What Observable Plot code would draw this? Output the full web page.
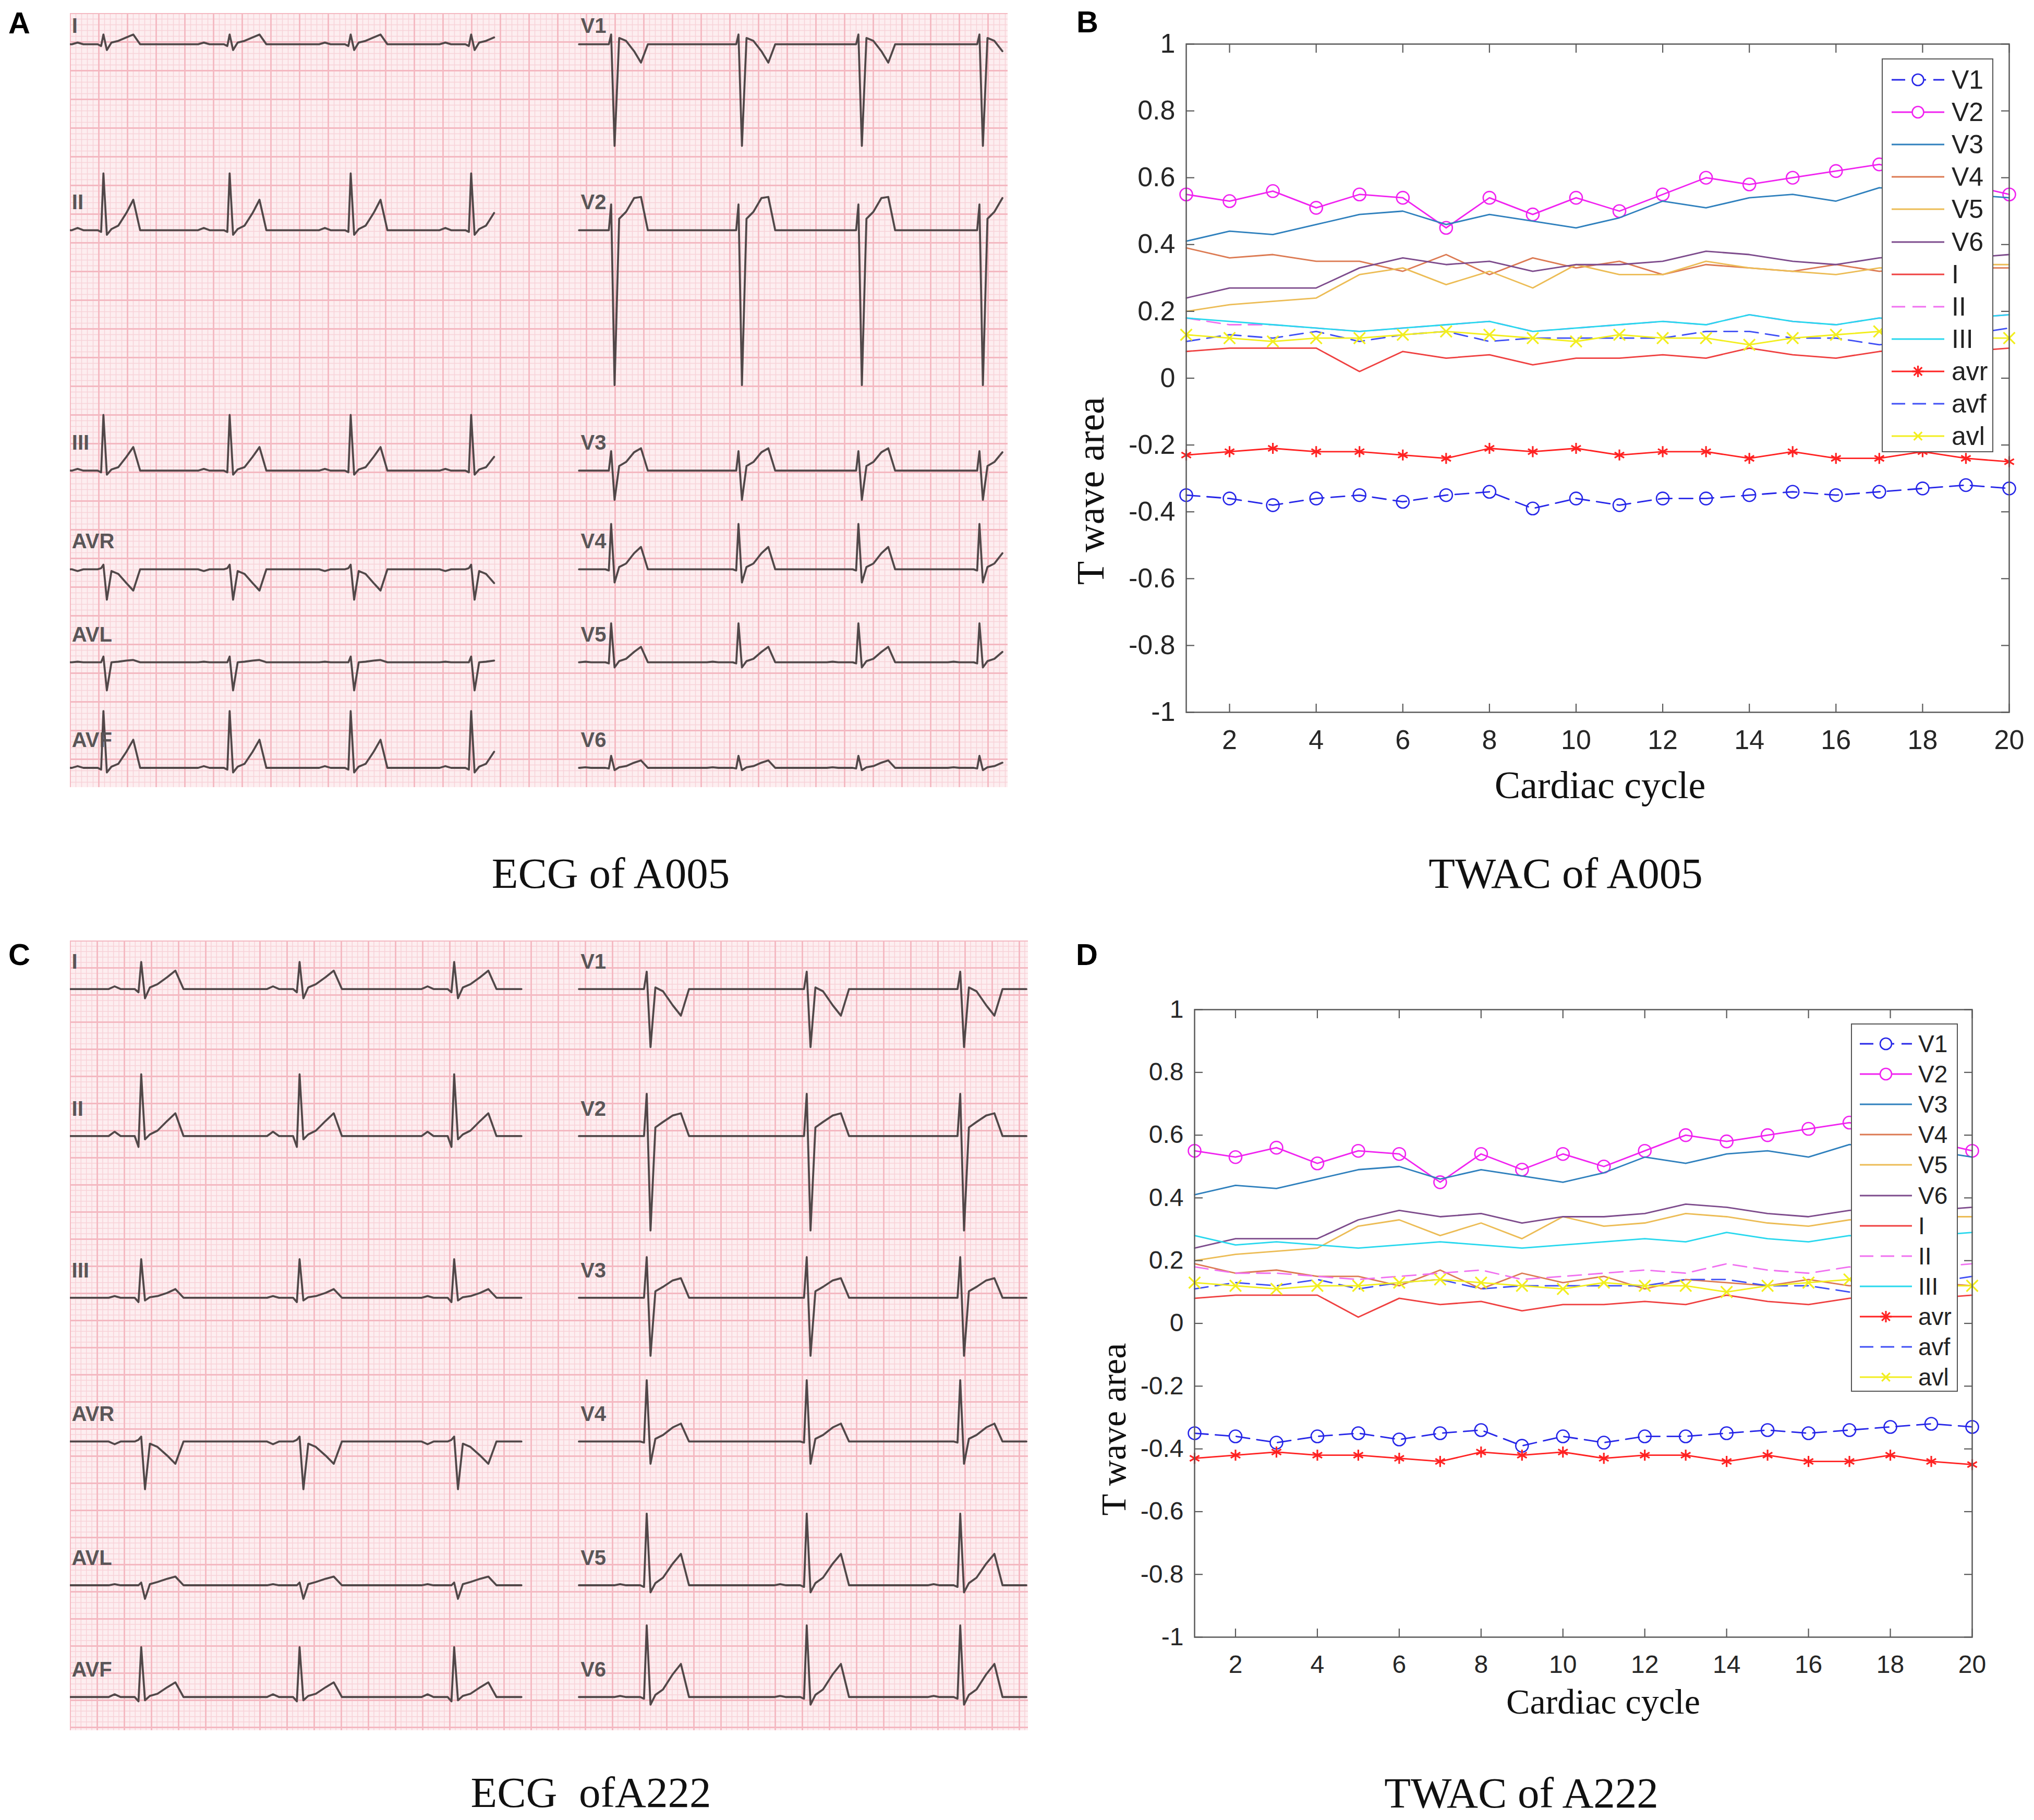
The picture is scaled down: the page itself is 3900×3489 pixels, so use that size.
<!DOCTYPE html>
<html><head><meta charset="utf-8">
<script src="https://cdn.jsdelivr.net/npm/d3@7"></script>
<script src="https://cdn.jsdelivr.net/npm/@observablehq/plot@0.6"></script>
<style>
html,body{margin:0;padding:0;background:#fff;}
#page{position:relative;width:3900px;height:3489px;overflow:hidden;background:#fff;}
.t{position:absolute;white-space:pre;line-height:1;transform:translate(-50%,-50%);}
.serif{font-family:"Liberation Serif","Times New Roman",serif;color:#111;}
.letter{font-family:"Liberation Sans",Arial,sans-serif;font-weight:bold;font-size:58px;color:#000;}
.leg{position:absolute;background:#fff;border:2.5px solid #555;box-sizing:border-box;}
</style></head>
<body><div id="page"></div>
<script>
// ---------------- TWAC data ----------------
const cycles = [1,2,3,4,5,6,7,8,9,10,11,12,13,14,15,16,17,18,19,20];
const xTicks = [2,4,6,8,10,12,14,16,18,20];
const yTicks = [-1,-0.8,-0.6,-0.4,-0.2,0,0.2,0.4,0.6,0.8,1];
const leadOrder = ["V1","V2","V3","V4","V5","V6","I","II","III","avr","avf","avl"];

// Panel B (A005)
const V1_B  = [-0.35,-0.36,-0.38,-0.36,-0.35,-0.37,-0.35,-0.34,-0.39,-0.36,-0.38,-0.36,-0.36,-0.35,-0.34,-0.35,-0.34,-0.33,-0.32,-0.33];
const V2_B  = [0.55,0.53,0.56,0.51,0.55,0.54,0.45,0.54,0.49,0.54,0.50,0.55,0.60,0.58,0.60,0.62,0.64,0.61,0.58,0.55];
const V3_B  = [0.41,0.44,0.43,0.46,0.49,0.50,0.46,0.49,0.47,0.45,0.48,0.53,0.51,0.54,0.55,0.53,0.57,0.56,0.55,0.54];
const V4_B  = [0.39,0.36,0.37,0.35,0.35,0.32,0.37,0.31,0.36,0.33,0.35,0.31,0.34,0.33,0.32,0.34,0.32,0.33,0.33,0.33];
const V5_B  = [0.20,0.22,0.23,0.24,0.31,0.33,0.28,0.32,0.27,0.34,0.31,0.31,0.35,0.33,0.32,0.31,0.33,0.33,0.34,0.34];
const V6_B  = [0.24,0.27,0.27,0.27,0.33,0.36,0.34,0.35,0.32,0.34,0.34,0.35,0.38,0.37,0.35,0.34,0.36,0.37,0.36,0.37];
const I_B   = [0.08,0.09,0.09,0.09,0.02,0.08,0.06,0.07,0.04,0.06,0.06,0.07,0.06,0.09,0.07,0.06,0.08,0.09,0.08,0.09];
const II_B  = [0.18,0.16,0.16,0.15,0.14,0.15,0.16,0.17,0.14,0.15,0.16,0.17,0.16,0.19,0.17,0.16,0.18,0.17,0.18,0.19];
const III_B = [0.18,0.17,0.16,0.15,0.14,0.15,0.16,0.17,0.14,0.15,0.16,0.17,0.16,0.19,0.17,0.16,0.18,0.17,0.18,0.19];
const avr_B = [-0.23,-0.22,-0.21,-0.22,-0.22,-0.23,-0.24,-0.21,-0.22,-0.21,-0.23,-0.22,-0.22,-0.24,-0.22,-0.24,-0.24,-0.22,-0.24,-0.25];
const avf_B = [0.11,0.13,0.12,0.14,0.11,0.13,0.14,0.11,0.12,0.12,0.12,0.12,0.14,0.14,0.12,0.12,0.10,0.11,0.13,0.15];
const avl_B = [0.13,0.12,0.11,0.12,0.12,0.13,0.14,0.13,0.12,0.11,0.13,0.12,0.12,0.10,0.12,0.13,0.14,0.13,0.12,0.12];

// Panel D (A222)
const V1_D  = [-0.35,-0.36,-0.38,-0.36,-0.35,-0.37,-0.35,-0.34,-0.39,-0.36,-0.38,-0.36,-0.36,-0.35,-0.34,-0.35,-0.34,-0.33,-0.32,-0.33];
const V2_D  = [0.55,0.53,0.56,0.51,0.55,0.54,0.45,0.54,0.49,0.54,0.50,0.55,0.60,0.58,0.60,0.62,0.64,0.61,0.58,0.55];
const V3_D  = [0.41,0.44,0.43,0.46,0.49,0.50,0.46,0.49,0.47,0.45,0.48,0.53,0.51,0.54,0.55,0.53,0.57,0.56,0.55,0.53];
const V4_D  = [0.19,0.16,0.17,0.15,0.15,0.12,0.17,0.11,0.16,0.13,0.15,0.11,0.14,0.13,0.12,0.14,0.12,0.13,0.13,0.12];
const V5_D  = [0.20,0.22,0.23,0.24,0.31,0.33,0.28,0.32,0.27,0.34,0.31,0.32,0.35,0.34,0.32,0.31,0.33,0.33,0.34,0.34];
const V6_D  = [0.24,0.27,0.27,0.27,0.33,0.36,0.34,0.35,0.32,0.34,0.34,0.35,0.38,0.37,0.35,0.34,0.36,0.37,0.36,0.37];
const I_D   = [0.08,0.09,0.09,0.09,0.02,0.08,0.06,0.07,0.04,0.06,0.06,0.07,0.06,0.09,0.07,0.06,0.08,0.09,0.08,0.09];
const II_D  = [0.18,0.16,0.16,0.15,0.14,0.15,0.16,0.17,0.14,0.15,0.16,0.17,0.16,0.19,0.17,0.16,0.18,0.17,0.18,0.19];
const III_D = [0.28,0.25,0.26,0.25,0.24,0.25,0.26,0.25,0.24,0.25,0.26,0.27,0.26,0.29,0.27,0.26,0.28,0.27,0.28,0.29];
const avr_D = [-0.43,-0.42,-0.41,-0.42,-0.42,-0.43,-0.44,-0.41,-0.42,-0.41,-0.43,-0.42,-0.42,-0.44,-0.42,-0.44,-0.44,-0.42,-0.44,-0.45];
const avf_D = [0.11,0.13,0.12,0.14,0.11,0.13,0.14,0.11,0.12,0.12,0.12,0.12,0.14,0.14,0.12,0.12,0.10,0.11,0.13,0.15];
const avl_D = [0.13,0.12,0.11,0.12,0.12,0.13,0.14,0.13,0.12,0.11,0.13,0.12,0.12,0.10,0.12,0.13,0.14,0.13,0.12,0.12];

// ---------------- ECG data (amplitudes in mm of paper) ----------------
const ecgLeads = ["I","II","III","AVR","AVL","AVF","V1","V2","V3","V4","V5","V6"];
// beat template time offsets from R peak (mm), values: 0,P,0,0,Q,R,S,J,ST,Tmid,T,0
const ecgTimeA = [-5.5,-4.5,-3.5,-1.0,-0.4,0,0.6,1.4,2.6,4.0,5.2,6.4];
const ecgTimeC = [-6.0,-4.9,-3.8,-1.2,-0.5,0,0.7,1.6,3.0,4.8,6.3,7.8];
// per lead: [P, Q, R, S, J, ST, Tmid, T]
const ampA = [
  [0.3,-0.3,1.7,-1.0,0.3,0.6,1.2,1.7],
  [0.4,-0.3,9.9,-0.8,0.2,0.8,3.0,5.3],
  [0.3,-0.3,9.7,-0.7,0.2,0.6,2.4,4.1],
  [-0.3,0.2,0.8,-5.3,-0.3,-0.8,-2.4,-3.7],
  [0.1,0.0,1.0,-4.9,0.0,0.1,0.3,0.4],
  [0.3,-0.3,9.9,-0.8,0.2,0.7,2.8,4.9],
  [0.0,0.0,1.7,-17.7,1.1,0.6,-1.2,-3.2],
  [0.0,0.0,4.5,-27.0,2.0,3.2,5.6,5.8],
  [0.0,0.0,3.4,-5.1,0.8,1.5,3.2,3.9],
  [0.0,-0.2,7.9,-2.3,0.4,1.0,2.8,3.9],
  [0.1,-0.2,6.8,-0.9,0.2,0.6,1.8,2.7],
  [0.1,-0.1,2.1,-0.4,0.1,0.3,0.9,1.3]
];
const ampC = [
  [0.5,-0.6,5.0,-1.7,0.3,0.9,2.2,3.4],
  [0.8,-2.0,11.4,-0.6,0.3,1.0,2.8,4.2],
  [0.3,-0.8,7.1,-0.5,0.1,0.3,0.9,1.6],
  [-0.5,0.3,0.9,-8.8,-0.4,-1.0,-2.6,-4.1],
  [0.2,0.0,0.5,-2.5,0.2,0.6,1.2,1.6],
  [0.5,-0.8,9.2,-0.6,0.2,0.6,1.8,2.7],
  [0.0,0.0,3.2,-10.7,0.3,-0.4,-3.0,-4.9],
  [0.0,0.0,7.8,-17.4,1.6,2.6,3.8,4.2],
  [0.0,0.0,7.5,-10.7,1.2,2.0,3.2,3.6],
  [0.0,-0.2,11.3,-4.1,0.5,1.2,2.6,3.3],
  [0.2,-0.3,13.2,-1.3,0.4,1.4,4.0,5.8],
  [0.2,-0.3,13.2,-1.4,0.4,1.4,4.2,6.1]
];
// R-peak times (mm from panel left)
const beatsA_left  = [5.8,27.8,48.9,69.9];
const beatsA_right = [94.3,116.5,137.4,158.5];
const beatsC_left  = [13.1,42.3,70.8];
const beatsC_right = [106.3,135.8,164.1];

// ---------------- layout ----------------
const rowsA = [5.4,37.8,79.7,96.9,113.1,131.5];
const rowsC = [8.9,36.0,65.8,92.3,118.8,139.4];

const STYLE = {
  V1: {stroke:"#2626e8", dash:"26,14", marker:"circle"},
  V2: {stroke:"#f022f0", marker:"circle"},
  V3: {stroke:"#2f80bd"},
  V4: {stroke:"#dc7a52"},
  V5: {stroke:"#ecbc55"},
  V6: {stroke:"#7d4b8c"},
  I:  {stroke:"#ef4040"},
  II: {stroke:"#f070f0", dash:"26,14"},
  III:{stroke:"#28d8ee"},
  avr:{stroke:"#ff2222", marker:"asterisk"},
  avf:{stroke:"#3f4ff5", dash:"26,14"},
  avl:{stroke:"#f2ee1e", marker:"times"}
};

const page = document.getElementById("page");
function place(node, left, top) {
  const d = document.createElement("div");
  d.style.cssText = `position:absolute;left:${left}px;top:${top}px;`;
  d.appendChild(node); page.appendChild(d); return d;
}
function label(str, cx, cy, cls, css) {
  const d = document.createElement("div");
  d.className = "t " + cls; d.textContent = str;
  d.style.left = cx + "px"; d.style.top = cy + "px";
  if (css) d.style.cssText += css;
  page.appendChild(d); return d;
}

// ---------------- ECG panels ----------------
function ecgPanel({w, h, mm, amps, times, beatsL, beatsR, rows, spanL, spanR, labelDy}) {
  const W = w / mm, H = h / mm;
  const trace = [], labs = [];
  ecgLeads.forEach((name, k) => {
    const col = k < 6 ? 0 : 1;
    const base = rows[k % 6];
    const beats = col ? beatsR : beatsL;
    const [x0, x1] = col ? spanR : spanL;
    const a = amps[k];
    const vals = [0, a[0], 0, 0, a[1], a[2], a[3], a[4], a[5], a[6], a[7], 0];
    trace.push({key: name, t: x0, v: base});
    let complete = true;
    for (const R of beats) times.forEach((dt, i) => {
      const t = R + dt;
      if (t > x0 && t < x1) trace.push({key: name, t, v: base - vals[i]});
      else if (t >= x1) complete = false;
    });
    if (complete) trace.push({key: name, t: x1, v: base});
    labs.push({name, t: x0 + 0.3, v: Math.max(base - labelDy, 2.2)});
  });
  const minorX = d3.range(0, W, 1), minorY = d3.range(0, H, 1);
  const majorX = d3.range(0, W, 5), majorY = d3.range(0, H, 5);
  return Plot.plot({
    width: w, height: h, margin: 0,
    x: {domain: [0, W], axis: null},
    y: {domain: [0, H], reverse: true, axis: null},
    style: {background: "#fdeef0", fontFamily: "Liberation Sans, Arial, sans-serif", overflow: "hidden"},
    marks: [
      Plot.ruleX(minorX, {stroke: "#f8d2d8", strokeWidth: 1.5}),
      Plot.ruleY(minorY, {stroke: "#f8d2d8", strokeWidth: 1.5}),
      Plot.ruleX(majorX, {stroke: "#f4b8c1", strokeWidth: 2.8}),
      Plot.ruleY(majorY, {stroke: "#f4b8c1", strokeWidth: 2.8}),
      Plot.line(trace, {x: "t", y: "v", z: "key", stroke: "#514849", strokeWidth: 3.8, strokeLinejoin: "round"}),
      Plot.text(labs, {x: "t", y: "v", text: "name", textAnchor: "start", fontSize: 40, fontWeight: "bold", fill: "#5a5557"})
    ]
  });
}

place(ecgPanel({w: 1798, h: 1484, mm: 11, amps: ampA, times: ecgTimeA,
  beatsL: beatsA_left, beatsR: beatsA_right, rows: rowsA,
  spanL: [0, 74.5], spanR: [88.7, 163.2], labelDy: 4.8}), 134, 25);
place(ecgPanel({w: 1837, h: 1514, mm: 10.4, amps: ampC, times: ecgTimeC,
  beatsL: beatsC_left, beatsR: beatsC_right, rows: rowsC,
  spanL: [0, 83.2], spanR: [93.8, 176.3], labelDy: 5.0}), 134, 1803);

// ---------------- TWAC panels ----------------
const fmtY = d => String(+d.toFixed(1));
function twac(series, {w, h, mt, mr, mb, ml, fs}) {
  const rows = [];
  leadOrder.forEach(lead => series[lead].forEach((v, i) => rows.push({lead, cycle: cycles[i], value: v})));
  const marks = [];
  leadOrder.forEach(lead => {
    const s = STYLE[lead];
    const data = rows.filter(r => r.lead === lead);
    marks.push(Plot.line(data, {x: "cycle", y: "value", stroke: s.stroke, strokeWidth: 2.8,
      strokeDasharray: s.dash || null}));
    if (s.marker === "circle")
      marks.push(Plot.dot(data, {x: "cycle", y: "value", r: 12, stroke: s.stroke, fill: "none", strokeWidth: 2.6}));
    else if (s.marker)
      marks.push(Plot.dot(data, {x: "cycle", y: "value", r: 10, symbol: s.marker, stroke: s.stroke, strokeWidth: 3.2}));
  });
  const tk = 16, tc = "#5a5a5a";
  return Plot.plot({
    width: w, height: h, marginTop: mt, marginRight: mr, marginBottom: mb, marginLeft: ml,
    x: {domain: [1, 20]},
    y: {domain: [-1, 1]},
    style: {background: "white", fontFamily: "Liberation Sans, Arial, sans-serif", fontSize: fs + "px", color: "#262626", overflow: "visible"},
    marks: [
      ...marks,
      Plot.frame({stroke: tc, strokeWidth: 2.5}),
      Plot.axisX(xTicks, {anchor: "bottom", tickSize: 0, tickPadding: 34, tickFormat: d => String(d), label: null, fontSize: fs}),
      Plot.axisY(yTicks, {anchor: "left", tickSize: 0, tickPadding: 21, tickFormat: fmtY, label: null, fontSize: fs}),
      Plot.axisX(xTicks, {anchor: "bottom", tickSize: tk, dy: -tk, fill: "none", label: null, stroke: tc, strokeWidth: 2.2}),
      Plot.axisX(xTicks, {anchor: "top", tickSize: tk, dy: tk, fill: "none", label: null, stroke: tc, strokeWidth: 2.2}),
      Plot.axisY(yTicks, {anchor: "left", tickSize: tk, dx: tk, fill: "none", label: null, stroke: tc, strokeWidth: 2.2}),
      Plot.axisY(yTicks, {anchor: "right", tickSize: tk, dx: -tk, fill: "none", label: null, stroke: tc, strokeWidth: 2.2})
    ]
  });
}

function legendBox({left, top, w, h, y0, step, sx0, sx1, lx, fs}) {
  const box = document.createElement("div");
  box.className = "leg";
  box.style.cssText += `left:${left}px;top:${top}px;width:${w}px;height:${h}px;`;
  page.appendChild(box);
  const NS = "http://www.w3.org/2000/svg";
  leadOrder.forEach((lead, i) => {
    const s = STYLE[lead];
    const cy = y0 + step * i;
    const svg = document.createElementNS(NS, "svg");
    svg.setAttribute("width", sx1 - sx0 + 30); svg.setAttribute("height", 40);
    svg.style.cssText = `position:absolute;left:${sx0 - left - 15}px;top:${cy - top - 20}px;overflow:visible;`;
    const ln = document.createElementNS(NS, "line");
    ln.setAttribute("x1", 15); ln.setAttribute("x2", sx1 - sx0 + 15); ln.setAttribute("y1", 20); ln.setAttribute("y2", 20);
    ln.setAttribute("stroke", s.stroke); ln.setAttribute("stroke-width", 2.8);
    if (s.dash) ln.setAttribute("stroke-dasharray", s.dash);
    svg.appendChild(ln);
    const mx = 15 + (sx1 - sx0) / 2;
    if (s.marker === "circle") {
      const c = document.createElementNS(NS, "circle");
      c.setAttribute("cx", mx); c.setAttribute("cy", 20); c.setAttribute("r", 11);
      c.setAttribute("fill", "#fff"); c.setAttribute("stroke", s.stroke); c.setAttribute("stroke-width", 2.6);
      svg.appendChild(c);
    } else if (s.marker) {
      const angles = s.marker === "asterisk" ? [0, 45, 90, 135] : [45, 135];
      angles.forEach(a => {
        const r = 11, rad = a * Math.PI / 180;
        const l = document.createElementNS(NS, "line");
        l.setAttribute("x1", mx - r * Math.cos(rad)); l.setAttribute("x2", mx + r * Math.cos(rad));
        l.setAttribute("y1", 20 - r * Math.sin(rad)); l.setAttribute("y2", 20 + r * Math.sin(rad));
        l.setAttribute("stroke", s.stroke); l.setAttribute("stroke-width", 3.2);
        svg.appendChild(l);
      });
    }
    box.appendChild(svg);
    const t = document.createElement("div");
    t.textContent = lead;
    t.style.cssText = `position:absolute;left:${lx - left}px;top:${cy - top}px;transform:translateY(-50%);font-family:"Liberation Sans",Arial,sans-serif;font-size:${fs}px;line-height:1;color:#222;`;
    box.appendChild(t);
  });
}

const seriesB = {V1: V1_B, V2: V2_B, V3: V3_B, V4: V4_B, V5: V5_B, V6: V6_B, I: I_B, II: II_B, III: III_B, avr: avr_B, avf: avf_B, avl: avl_B};
const seriesD = {V1: V1_D, V2: V2_D, V3: V3_D, V4: V4_D, V5: V5_D, V6: V6_D, I: I_D, II: II_D, III: III_D, avr: avr_D, avf: avf_D, avl: avl_D};

place(twac(seriesB, {w: 1826, h: 1480, mt: 84, mr: 48, mb: 115, ml: 200, fs: 52}), 2074, 0);
place(twac(seriesD, {w: 1810, h: 1450, mt: 135, mr: 119, mb: 112, ml: 200, fs: 48}), 2090, 1800);

legendBox({left: 3608, top: 112, w: 214, h: 755, y0: 151, step: 62.1, sx0: 3625, sx1: 3726, lx: 3740, fs: 50});
legendBox({left: 3549, top: 1962, w: 205, h: 706, y0: 1999, step: 58.1, sx0: 3564, sx1: 3664, lx: 3676, fs: 46});

// axis labels, titles, panel letters
label("T wave area", 2091, 941, "serif", "font-size:74px;transform:translate(-50%,-50%) rotate(-90deg);");
label("Cardiac cycle", 3068, 1505, "serif", "font-size:74px;");
label("T wave area", 2135, 2740, "serif", "font-size:68px;transform:translate(-50%,-50%) rotate(-90deg);");
label("Cardiac cycle", 3074, 3262, "serif", "font-size:68px;");
label("ECG of A005", 1171, 1674, "serif", "font-size:83px;");
label("TWAC of A005", 3002, 1674, "serif", "font-size:83px;");
label("ECG  ofA222", 1133, 3436, "serif", "font-size:83px;");
label("TWAC of A222", 2917, 3437, "serif", "font-size:83px;");
label("A", 37, 44, "letter");
label("B", 2085, 42, "letter");
label("C", 37, 1830, "letter");
label("D", 2084, 1830, "letter");
</script>
</body></html>
